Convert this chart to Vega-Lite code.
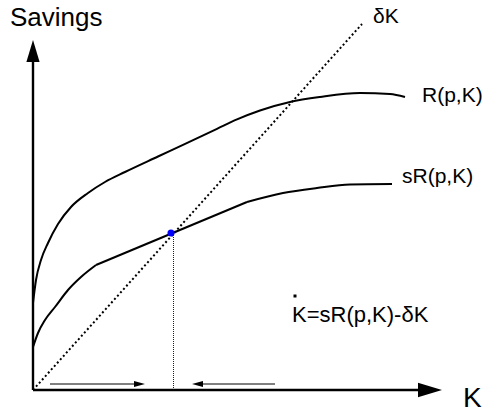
{
  "$schema": "https://vega.github.io/schema/vega-lite/v6.json",
  "width": 486,
  "height": 415,
  "padding": 0,
  "autosize": {"type": "fit", "contains": "padding"},
  "background": "white",
  "config": {"view": {"stroke": null}},
  "datasets": {
    "curves": [
      {"seg": "R", "x": 0, "y": 8.7},
      {"seg": "R", "x": 0.3, "y": 11.0},
      {"seg": "R", "x": 0.8, "y": 13.0},
      {"seg": "R", "x": 1.5, "y": 14.7},
      {"seg": "R", "x": 2.5, "y": 16.6},
      {"seg": "R", "x": 3.8, "y": 18.3},
      {"seg": "R", "x": 5.5, "y": 19.7},
      {"seg": "R", "x": 7.2, "y": 20.8},
      {"seg": "R", "x": 9.2, "y": 21.8},
      {"seg": "R", "x": 12.5, "y": 23.35},
      {"seg": "R", "x": 15.0, "y": 24.52},
      {"seg": "R", "x": 18.4, "y": 26.12},
      {"seg": "R", "x": 20.4, "y": 27.06},
      {"seg": "R", "x": 22.7, "y": 27.95},
      {"seg": "R", "x": 25.7, "y": 28.8},
      {"seg": "R", "x": 28.7, "y": 29.3},
      {"seg": "R", "x": 32.7, "y": 29.7},
      {"seg": "R", "x": 35.7, "y": 29.6},
      {"seg": "R", "x": 37.2, "y": 29.3},
      {"seg": "sR1", "x": 0, "y": 4.3},
      {"seg": "sR1", "x": 0.5, "y": 5.7},
      {"seg": "sR1", "x": 1.2, "y": 7.0},
      {"seg": "sR1", "x": 2.2, "y": 8.3},
      {"seg": "sR1", "x": 3.5, "y": 10.0},
      {"seg": "sR1", "x": 4.8, "y": 11.3},
      {"seg": "sR1", "x": 6.3, "y": 12.5},
      {"seg": "sR2", "x": 6.3, "y": 12.5},
      {"seg": "sR2", "x": 21.4, "y": 18.8},
      {"seg": "sR3", "x": 21.4, "y": 18.8},
      {"seg": "sR3", "x": 25.0, "y": 19.7},
      {"seg": "sR3", "x": 28.4, "y": 20.2},
      {"seg": "sR3", "x": 31.7, "y": 20.55},
      {"seg": "sR3", "x": 35.9, "y": 20.6}
    ],
    "axes": [
      {"seg": "yaxis", "x": 0, "y": 0},
      {"seg": "yaxis", "x": 0, "y": 33.2},
      {"seg": "xaxis", "x": 0, "y": 0},
      {"seg": "xaxis", "x": 39.0, "y": 0}
    ],
    "shafts": [
      {"seg": "right", "x": 1.7, "y": 0.6},
      {"seg": "right", "x": 10.4, "y": 0.6},
      {"seg": "left", "x": 16.8, "y": 0.6},
      {"seg": "left", "x": 24.2, "y": 0.6}
    ],
    "depreciation": [
      {"x": 0, "y": 0},
      {"x": 32.9, "y": 36.6}
    ],
    "steady": [
      {"x": 14.05, "y": 0},
      {"x": 14.05, "y": 15.7}
    ],
    "equilibrium": [
      {"x": 13.8, "y": 15.7}
    ],
    "heads": [
      {"dir": "up", "x": 0, "y": 33.9},
      {"dir": "east", "x": 39.7, "y": 0},
      {"dir": "right", "x": 10.65, "y": 0.6},
      {"dir": "left", "x": 16.45, "y": 0.6}
    ],
    "labels": [
      {"label": "Savings", "x": -2.3, "y": 36.4, "size": 26},
      {"label": "δK", "x": 34.0, "y": 36.7, "size": 21},
      {"label": "R(p,K)", "x": 38.9, "y": 28.8, "size": 21},
      {"label": "sR(p,K)", "x": 36.9, "y": 20.7, "size": 21},
      {"label": "K=sR(p,K)-δK", "x": 25.9, "y": 6.8, "size": 22},
      {"label": "K", "x": 43.0, "y": -1.7, "size": 28}
    ],
    "overdot": [
      {"x": 26.2, "y": 9.4}
    ]
  },
  "encoding": {
    "x": {"field": "x", "type": "quantitative", "axis": null,
          "scale": {"domain": [-3.3, 45.3], "nice": false, "zero": false}},
    "y": {"field": "y", "type": "quantitative", "axis": null,
          "scale": {"domain": [-2.5, 39.0], "nice": false, "zero": false}}
  },
  "layer": [
    {
      "data": {"name": "depreciation"},
      "mark": {"type": "line", "color": "black", "strokeWidth": 2, "strokeDash": [2, 2.5]}
    },
    {
      "data": {"name": "steady"},
      "mark": {"type": "line", "color": "#0000ff", "strokeWidth": 1, "strokeDash": [1, 1]}
    },
    {
      "data": {"name": "curves"},
      "mark": {"type": "line", "color": "black", "strokeWidth": 2, "interpolate": "monotone"},
      "encoding": {"detail": {"field": "seg"}}
    },
    {
      "data": {"name": "axes"},
      "mark": {"type": "line", "color": "black", "strokeWidth": 2.4},
      "encoding": {"detail": {"field": "seg"}}
    },
    {
      "data": {"name": "shafts"},
      "mark": {"type": "line", "color": "black", "strokeWidth": 1},
      "encoding": {"detail": {"field": "seg"}}
    },
    {
      "data": {"name": "heads"},
      "transform": [{"filter": "datum.dir === 'up'"}],
      "mark": {"type": "point", "filled": true, "color": "black", "opacity": 1,
               "size": 484, "shape": "M0,-1L0.6,1L-0.6,1Z"}
    },
    {
      "data": {"name": "heads"},
      "transform": [{"filter": "datum.dir === 'east'"}],
      "mark": {"type": "point", "filled": true, "color": "black", "opacity": 1,
               "size": 576, "shape": "M1,0L-1,-0.6L-1,0.6Z"}
    },
    {
      "data": {"name": "heads"},
      "transform": [{"filter": "datum.dir === 'right'"}],
      "mark": {"type": "point", "filled": true, "color": "black", "opacity": 1,
               "size": 121, "shape": "M1,0L-1,-0.55L-1,0.55Z"}
    },
    {
      "data": {"name": "heads"},
      "transform": [{"filter": "datum.dir === 'left'"}],
      "mark": {"type": "point", "filled": true, "color": "black", "opacity": 1,
               "size": 121, "shape": "M-1,0L1,-0.55L1,0.55Z"}
    },
    {
      "data": {"name": "equilibrium"},
      "mark": {"type": "point", "filled": true, "color": "#0000ff", "opacity": 1, "size": 50}
    },
    {
      "data": {"name": "overdot"},
      "mark": {"type": "point", "filled": true, "color": "black", "opacity": 1, "shape": "square", "size": 9}
    },
    {
      "data": {"name": "labels"},
      "mark": {"type": "text", "align": "left", "baseline": "alphabetic",
               "font": "Liberation Sans", "color": "black"},
      "encoding": {
        "text": {"field": "label"},
        "size": {"field": "size", "type": "quantitative", "scale": null}
      }
    }
  ]
}
